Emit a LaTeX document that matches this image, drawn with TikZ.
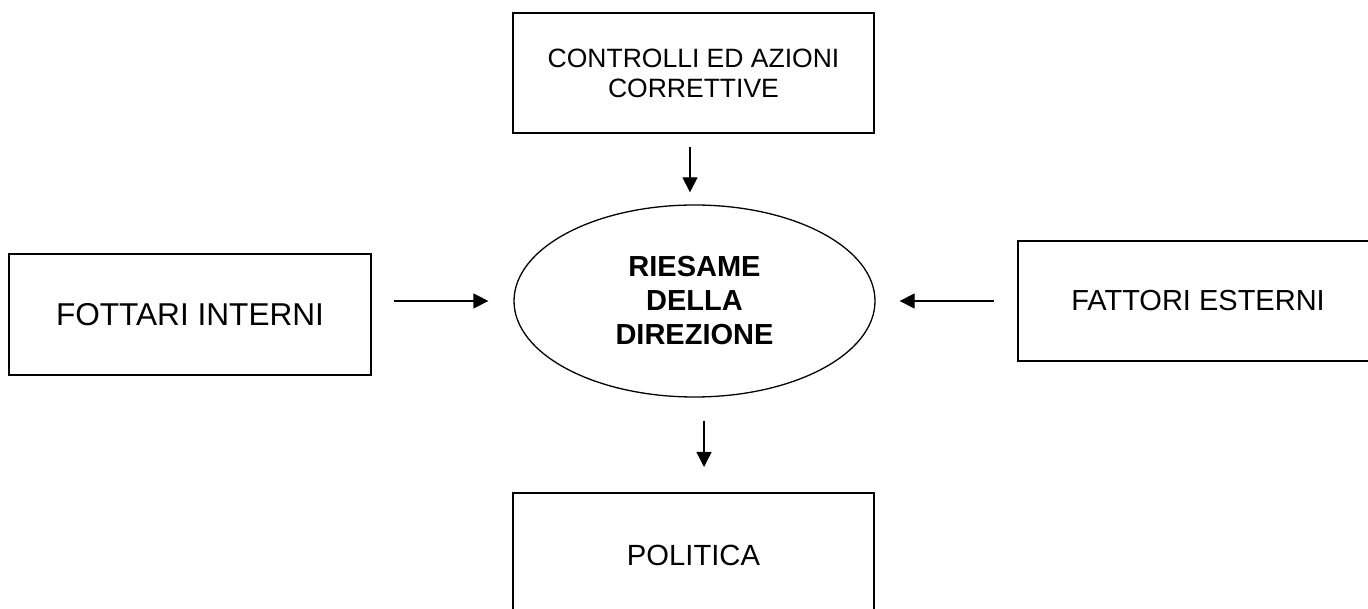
\documentclass[tikz,border=0pt]{standalone}
\usepackage{fontspec}
\setmainfont{Liberation Sans}
\usetikzlibrary{arrows.meta,shapes.geometric,positioning}
\tikzset{
box/.style={
  draw, rectangle, line width=2pt,
  inner sep=0pt, align=center
},
oval/.style={
  draw, ellipse, line width=1.3pt,
  inner sep=0pt, align=center,
  minimum width=361pt, minimum height=192pt
},
arr/.style={line width=1.3pt, -{Triangle[length=15pt,width=15pt]}},
}

\begin{document}
\begin{tikzpicture}[x=1pt,y=1pt]
  \useasboundingbox (0,0) rectangle (1368,608);
  \clip (0,0) rectangle (1368,608);
  \fill[white] (0,0) rectangle (1368,608);
  \node (controlli) [box, minimum width=361pt, minimum height=120pt,
    font=\fontsize{26.5}{30}\selectfont] at (693.5,535) {CONTROLLI ED AZIONI\\CORRETTIVE};
  \node (riesame) [oval, font=\fontsize{29}{34}\selectfont\bfseries] at (694.5,307) {RIESAME\\DELLA\\DIREZIONE};
  \node (interni) [box, minimum width=362pt, minimum height=121pt,
    font=\fontsize{31.6}{36}\selectfont] at (190,293.5) {FOTTARI INTERNI};
  \node (esterni) [box, minimum width=360pt, minimum height=120pt,
    font=\fontsize{29}{34}\selectfont] at (1198,307) {FATTORI ESTERNI};
  \node (politica) [box, minimum width=361pt, minimum height=124pt,
    font=\fontsize{29.2}{34}\selectfont] at (693.5,53) {POLITICA};
  % arrows
  \draw[arr, shorten <=13pt, shorten >=12pt] ([xshift=-3.5pt]controlli.south) -- ([xshift=-4.5pt]riesame.north);
  \draw[arr, shorten <=22pt, shorten >=25pt] (interni.east |- riesame.west) -- (riesame.west);
  \draw[arr, shorten <=23pt, shorten >=24pt] (esterni.west |- riesame.east) -- (riesame.east);
  \draw[arr, shorten <=23pt, shorten >=25pt] ([xshift=9.5pt]riesame.south) -- ([xshift=9.5pt]riesame.south |- politica.north);
\end{tikzpicture}
\end{document}
